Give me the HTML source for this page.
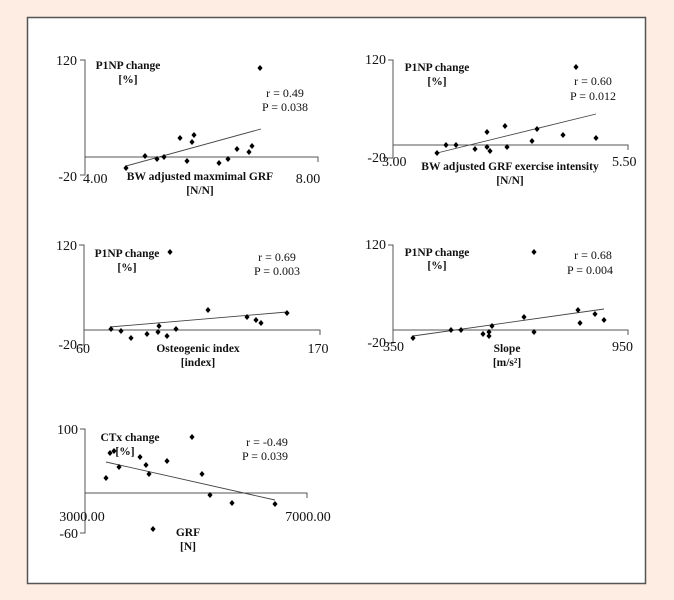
<!DOCTYPE html>
<html><head><style>
html,body{margin:0;padding:0;background:#fdede3;}
svg{display:block;}
text{font-family:"Liberation Serif",serif;fill:#111;}
.b{font-weight:bold;font-size:11.5px;}
.t{font-size:14px;}
.s{font-size:12px;}
</style></head><body>
<svg width="674" height="600" viewBox="0 0 674 600" xmlns="http://www.w3.org/2000/svg">
<rect x="0" y="0" width="674" height="600" fill="#fdede3"/>
<rect x="27.5" y="17.5" width="618" height="566" fill="#fff" stroke="#555" stroke-width="1.5"/>
<g stroke="#555" stroke-width="1" fill="none">
<path d="M80 60H85V175H80M85 157H318V162"/>
<path d="M388 60H393V158H388M393 145H628V150"/>
<path d="M79 245H84V345H79M84 330H320V335"/>
<path d="M388 245H393V343H388M393 330H628V335"/>
<path d="M80 429H85V533H80M85 493H307V498"/>
</g>
<g stroke="#444" stroke-width="0.9">
<line x1="126" y1="166" x2="261" y2="129"/>
<line x1="437" y1="153" x2="596" y2="114"/>
<line x1="110" y1="327" x2="287" y2="312"/>
<line x1="413" y1="336" x2="604" y2="309"/>
<line x1="106" y1="462" x2="275" y2="500"/>
</g>
<defs><path id="d" d="M0 -3L2.6 0L0 3L-2.6 0Z" fill="#000"/></defs>
<g>
<use href="#d" x="126" y="168"/><use href="#d" x="145" y="156"/><use href="#d" x="157" y="159"/><use href="#d" x="164" y="157"/><use href="#d" x="180" y="138"/><use href="#d" x="192" y="142"/><use href="#d" x="194" y="135"/><use href="#d" x="187" y="161"/><use href="#d" x="219" y="163"/><use href="#d" x="228" y="159"/><use href="#d" x="237" y="149"/><use href="#d" x="249" y="152"/><use href="#d" x="252" y="146"/><use href="#d" x="260" y="68"/>
<use href="#d" x="437" y="153"/><use href="#d" x="446" y="145"/><use href="#d" x="456" y="145"/><use href="#d" x="475" y="149"/><use href="#d" x="487" y="132"/><use href="#d" x="487" y="147"/><use href="#d" x="490" y="151"/><use href="#d" x="505" y="126"/><use href="#d" x="507" y="147"/><use href="#d" x="532" y="141"/><use href="#d" x="537" y="129"/><use href="#d" x="563" y="135"/><use href="#d" x="576" y="67"/><use href="#d" x="596" y="138"/>
<use href="#d" x="111" y="329"/><use href="#d" x="121" y="331"/><use href="#d" x="131" y="338"/><use href="#d" x="147" y="334"/><use href="#d" x="158" y="332"/><use href="#d" x="159" y="326"/><use href="#d" x="167" y="336"/><use href="#d" x="176" y="329"/><use href="#d" x="170" y="252"/><use href="#d" x="208" y="310"/><use href="#d" x="247" y="317"/><use href="#d" x="256" y="320"/><use href="#d" x="261" y="323"/><use href="#d" x="287" y="313"/>
<use href="#d" x="413" y="338"/><use href="#d" x="451" y="330"/><use href="#d" x="461" y="330"/><use href="#d" x="483" y="334"/><use href="#d" x="489" y="332"/><use href="#d" x="489" y="336"/><use href="#d" x="492" y="326"/><use href="#d" x="524" y="317"/><use href="#d" x="534" y="332"/><use href="#d" x="534" y="252"/><use href="#d" x="578" y="310"/><use href="#d" x="580" y="323"/><use href="#d" x="595" y="314"/><use href="#d" x="604" y="320"/>
<use href="#d" x="106" y="478"/><use href="#d" x="110" y="453"/><use href="#d" x="114" y="451"/><use href="#d" x="119" y="467"/><use href="#d" x="140" y="457"/><use href="#d" x="146" y="465"/><use href="#d" x="149" y="474"/><use href="#d" x="167" y="461"/><use href="#d" x="192" y="437"/><use href="#d" x="202" y="474"/><use href="#d" x="210" y="495"/><use href="#d" x="232" y="503"/><use href="#d" x="275" y="504"/><use href="#d" x="153" y="529"/>
</g>
<text class="t" x="77" y="65" text-anchor="end">120</text>
<text class="t" x="77" y="181" text-anchor="end">-20</text>
<text class="t" x="83" y="183">4.00</text>
<text class="t" x="308" y="183" text-anchor="middle">8.00</text>
<text class="b" x="128" y="69" text-anchor="middle">P1NP change</text>
<text class="b" x="128" y="83" text-anchor="middle">[%]</text>
<text class="s" x="285" y="97" text-anchor="middle">r = 0.49</text>
<text class="s" x="285" y="111" text-anchor="middle">P = 0.038</text>
<text class="b" x="200" y="180" text-anchor="middle">BW adjusted maxmimal GRF</text>
<text class="b" x="200" y="194" text-anchor="middle">[N/N]</text>
<text class="t" x="386" y="64" text-anchor="end">120</text>
<text class="t" x="386" y="162" text-anchor="end">-20</text>
<text class="t" x="382" y="166">3.00</text>
<text class="t" x="612" y="166">5.50</text>
<text class="b" x="437" y="71" text-anchor="middle">P1NP change</text>
<text class="b" x="437" y="85" text-anchor="middle">[%]</text>
<text class="s" x="593" y="85" text-anchor="middle">r = 0.60</text>
<text class="s" x="593" y="100" text-anchor="middle">P = 0.012</text>
<text class="b" x="510" y="170" text-anchor="middle">BW adjusted GRF exercise intensity</text>
<text class="b" x="510" y="184" text-anchor="middle">[N/N]</text>
<text class="t" x="77" y="250" text-anchor="end">120</text>
<text class="t" x="77" y="349" text-anchor="end">-20</text>
<text class="t" x="83" y="353" text-anchor="middle">60</text>
<text class="t" x="318" y="353" text-anchor="middle">170</text>
<text class="b" x="127" y="257" text-anchor="middle">P1NP change</text>
<text class="b" x="127" y="271" text-anchor="middle">[%]</text>
<text class="s" x="277" y="261" text-anchor="middle">r = 0.69</text>
<text class="s" x="277" y="275" text-anchor="middle">P = 0.003</text>
<text class="b" x="198" y="352" text-anchor="middle">Osteogenic index</text>
<text class="b" x="198" y="366" text-anchor="middle">[index]</text>
<text class="t" x="386" y="249" text-anchor="end">120</text>
<text class="t" x="386" y="347" text-anchor="end">-20</text>
<text class="t" x="383" y="351">350</text>
<text class="t" x="612" y="351">950</text>
<text class="b" x="437" y="256" text-anchor="middle">P1NP change</text>
<text class="b" x="437" y="269" text-anchor="middle">[%]</text>
<text class="s" x="593" y="259" text-anchor="middle">r = 0.68</text>
<text class="s" x="590" y="274" text-anchor="middle">P = 0.004</text>
<text class="b" x="507" y="352" text-anchor="middle">Slope</text>
<text class="b" x="507" y="366" text-anchor="middle">[m/s²]</text>
<text class="t" x="78" y="434" text-anchor="end">100</text>
<text class="t" x="78" y="538" text-anchor="end">-60</text>
<text class="t" x="82" y="521" text-anchor="middle">3000.00</text>
<text class="t" x="308" y="521" text-anchor="middle">7000.00</text>
<text class="b" x="130" y="441" text-anchor="middle">CTx change</text>
<text class="b" x="125" y="455" text-anchor="middle">[%]</text>
<text class="s" x="267" y="446" text-anchor="middle">r = -0.49</text>
<text class="s" x="265" y="460" text-anchor="middle">P = 0.039</text>
<text class="b" x="188" y="536" text-anchor="middle">GRF</text>
<text class="b" x="188" y="550" text-anchor="middle">[N]</text>
</svg>
</body></html>
